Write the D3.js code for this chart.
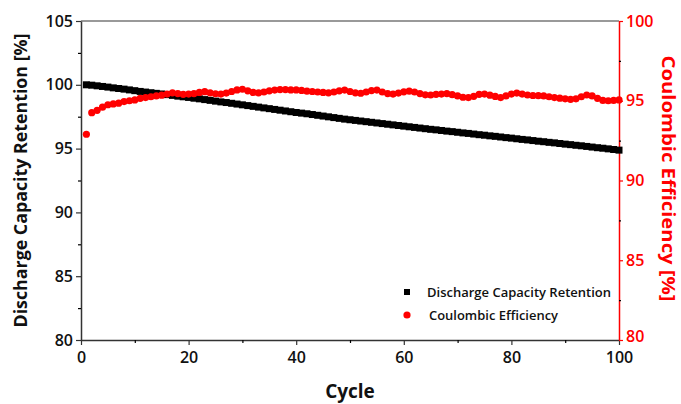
<!DOCTYPE html>
<html lang="en">
<head>
<meta charset="utf-8">
<title>Capacity retention and coulombic efficiency</title>
<script src="https://cdnjs.cloudflare.com/ajax/libs/d3/7.8.5/d3.min.js"></script>
<style>
  body { margin: 0; background: #fff; }
  svg text { font-family: "Open Sans", sans-serif; }
</style>
</head>
<body>
<div id="viz"></div>
<script>
// cycle numbers 1..100
const cycles = [
  1,2,3,4,5,6,7,8,9,10,11,12,13,14,15,16,17,18,19,20,
  21,22,23,24,25,26,27,28,29,30,31,32,33,34,35,36,37,38,39,40,
  41,42,43,44,45,46,47,48,49,50,51,52,53,54,55,56,57,58,59,60,
  61,62,63,64,65,66,67,68,69,70,71,72,73,74,75,76,77,78,79,80,
  81,82,83,84,85,86,87,88,89,90,91,92,93,94,95,96,97,98,99,100
];

// discharge capacity retention [%] (left axis)
const retention = [
  100.00,99.97,99.92,99.87,99.82,99.76,99.71,99.66,99.60,99.54,
  99.48,99.43,99.38,99.33,99.28,99.23,99.17,99.11,99.06,99.01,
  98.95,98.90,98.84,98.78,98.72,98.66,98.61,98.55,98.49,98.43,
  98.37,98.31,98.25,98.19,98.13,98.07,98.01,97.95,97.89,97.83,
  97.78,97.73,97.67,97.61,97.55,97.49,97.43,97.37,97.31,97.26,
  97.21,97.16,97.11,97.06,97.01,96.96,96.91,96.86,96.81,96.76,
  96.71,96.66,96.61,96.56,96.51,96.47,96.42,96.37,96.33,96.28,
  96.23,96.19,96.14,96.09,96.05,96.00,95.96,95.91,95.86,95.82,
  95.77,95.72,95.68,95.63,95.58,95.54,95.49,95.45,95.40,95.35,
  95.31,95.26,95.22,95.17,95.12,95.07,95.03,94.98,94.93,94.88
];

// coulombic efficiency [%] (right axis)
const efficiency = [
  92.90,94.25,94.40,94.60,94.75,94.80,94.85,94.95,95.00,95.05,
  95.15,95.20,95.25,95.30,95.35,95.42,95.50,95.45,95.40,95.42,
  95.45,95.52,95.57,95.50,95.44,95.42,95.48,95.58,95.68,95.72,
  95.62,95.52,95.50,95.55,95.62,95.67,95.70,95.70,95.68,95.68,
  95.65,95.60,95.58,95.55,95.52,95.50,95.55,95.62,95.67,95.58,
  95.50,95.47,95.55,95.64,95.67,95.55,95.45,95.42,95.48,95.56,
  95.60,95.55,95.45,95.37,95.36,95.40,95.42,95.45,95.38,95.30,
  95.22,95.20,95.28,95.40,95.42,95.35,95.27,95.20,95.30,95.42,
  95.48,95.42,95.36,95.33,95.32,95.30,95.25,95.20,95.16,95.12,
  95.09,95.12,95.25,95.36,95.30,95.15,95.02,95.00,95.02,95.05
];

const xTicks = [0, 20, 40, 60, 80, 100];
const xMinor = [10, 30, 50, 70, 90];
const leftTicks = [80, 85, 90, 95, 100, 105];
const leftMinor = [82.5, 87.5, 92.5, 97.5, 102.5];
const rightTicks = [80, 85, 90, 95, 100];
const rightMinor = [82.5, 87.5, 92.5, 97.5];

const width = 681;
const height = 404;
const margin = {top: 21, right: 62, bottom: 64, left: 81};
const red = "#ff0000";

const svg = d3.select("#viz")
  .append("svg")
  .attr("width", width)
  .attr("height", height);

const x = d3.scaleLinear().domain([0, 100]).range([margin.left, width - margin.right]);
const yL = d3.scaleLinear().domain([80, 105]).range([height - margin.bottom, margin.top]);
const yR = d3.scaleLinear().domain([80, 100]).range([height - margin.bottom, margin.top]);

// top frame line
svg.append("line")
  .attr("x1", x(0)).attr("x2", x(100))
  .attr("y1", yL(105)).attr("y2", yL(105))
  .attr("stroke", "#777").attr("stroke-width", 1.5);

// bottom axis
const gx = svg.append("g")
  .attr("transform", `translate(0,${height - margin.bottom})`)
  .call(d3.axisBottom(x).tickValues(xTicks).tickSize(5).tickSizeOuter(0).tickPadding(7));
svg.append("g")
  .attr("transform", `translate(0,${height - margin.bottom})`)
  .call(d3.axisBottom(x).tickValues(xMinor).tickSize(3).tickSizeOuter(0).tickFormat(""))
  .call(g => g.select(".domain").remove());

// left axis
const gl = svg.append("g")
  .attr("transform", `translate(${margin.left},0)`)
  .call(d3.axisLeft(yL).tickValues(leftTicks).tickSize(5).tickSizeOuter(0).tickPadding(3));
svg.append("g")
  .attr("transform", `translate(${margin.left},0)`)
  .call(d3.axisLeft(yL).tickValues(leftMinor).tickSize(3).tickSizeOuter(0).tickFormat(""))
  .call(g => g.select(".domain").remove());

// right axis
const gr = svg.append("g")
  .attr("transform", `translate(${width - margin.right},0)`)
  .call(d3.axisRight(yR).tickValues(rightTicks).tickSize(4).tickSizeOuter(0).tickPadding(3));
svg.append("g")
  .attr("transform", `translate(${width - margin.right},0)`)
  .call(d3.axisRight(yR).tickValues(rightMinor).tickSize(2).tickSizeOuter(0).tickFormat(""))
  .call(g => g.select(".domain").remove());

svg.selectAll(".domain").attr("stroke-width", 1.5);
gx.selectAll("path, line").attr("stroke", "#333");
gl.selectAll("path, line").attr("stroke", "#333");
gr.selectAll("path, line").attr("stroke", red);
svg.selectAll(".tick line").attr("stroke-width", 1.2);

[gx, gl].forEach(g => g.selectAll("text")
  .attr("font-size", 16).attr("font-weight", 600).attr("fill", "#111"));
gr.selectAll("text")
  .attr("font-size", 16).attr("font-weight", 600).attr("fill", red);
// keep the right "80" clear of the bottom "100"
gr.selectAll(".tick text").filter(d => d === 80).attr("dy", "0.1em");

// data: retention squares
svg.append("g")
  .selectAll("rect")
  .data(cycles)
  .join("rect")
    .attr("x", (d, i) => x(d) - 3.5)
    .attr("y", (d, i) => yL(retention[i]) - 3.5)
    .attr("width", 7)
    .attr("height", 7)
    .attr("fill", "#000");

// data: efficiency circles
svg.append("g")
  .selectAll("circle")
  .data(cycles)
  .join("circle")
    .attr("cx", d => x(d))
    .attr("cy", (d, i) => yR(efficiency[i]))
    .attr("r", 3.6)
    .attr("fill", red);

// axis titles
svg.append("text")
  .attr("transform", `translate(27,${(margin.top + height - margin.bottom) / 2}) rotate(-90)`)
  .attr("text-anchor", "middle")
  .attr("font-size", 17).attr("font-weight", 700).attr("fill", "#111")
  .attr("textLength", 294).attr("lengthAdjust", "spacingAndGlyphs")
  .text("Discharge Capacity Retention [%]");

svg.append("text")
  .attr("transform", `translate(662,${(margin.top + height - margin.bottom) / 2 - 2}) rotate(90)`)
  .attr("text-anchor", "middle")
  .attr("font-size", 17).attr("font-weight", 700).attr("fill", red)
  .attr("textLength", 246).attr("lengthAdjust", "spacingAndGlyphs")
  .text("Coulombic Efficiency [%]");

svg.append("text")
  .attr("x", x(50)).attr("y", 398)
  .attr("text-anchor", "middle")
  .attr("font-size", 19).attr("font-weight", 700).attr("fill", "#111")
  .text("Cycle");

// legend
const legend = svg.append("g");
legend.append("rect")
  .attr("x", 404).attr("y", 289).attr("width", 6).attr("height", 6).attr("fill", "#000");
legend.append("text")
  .attr("x", 427).attr("y", 297)
  .attr("font-size", 13).attr("font-weight", 600).attr("fill", "#111")
  .attr("textLength", 184).attr("lengthAdjust", "spacingAndGlyphs")
  .text("Discharge Capacity Retention");
legend.append("circle")
  .attr("cx", 407).attr("cy", 315).attr("r", 3.6).attr("fill", red);
legend.append("text")
  .attr("x", 429).attr("y", 320)
  .attr("font-size", 13).attr("font-weight", 600).attr("fill", "#111")
  .attr("textLength", 129).attr("lengthAdjust", "spacingAndGlyphs")
  .text("Coulombic Efficiency");
</script>
</body>
</html>
